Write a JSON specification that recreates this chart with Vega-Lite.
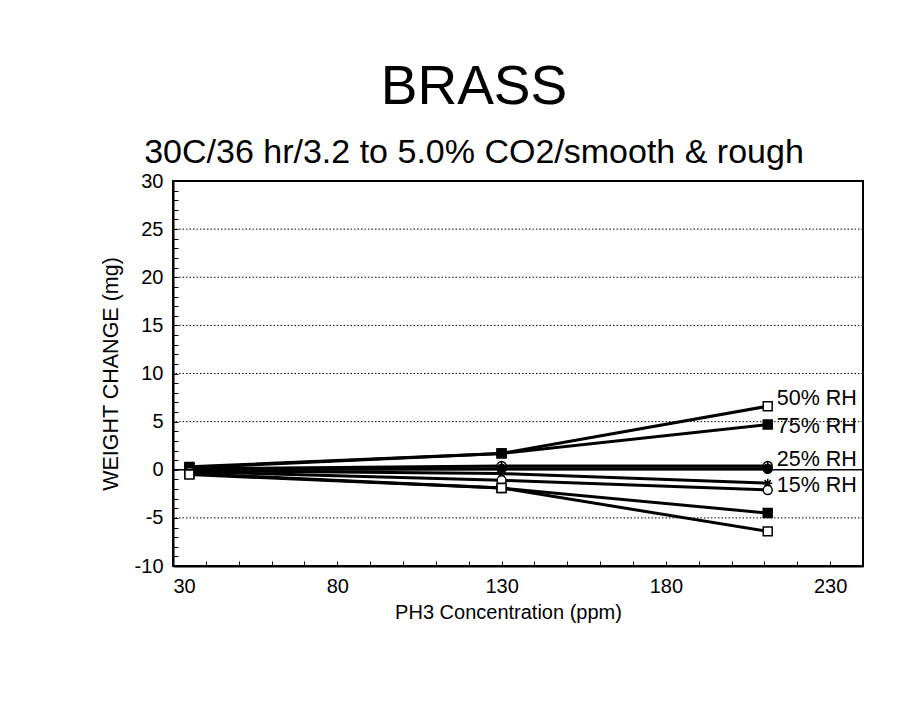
{
  "$schema": "https://vega.github.io/schema/vega-lite/v6.json",
  "autosize": {"type": "none"},
  "padding": {"left": 173, "top": 181, "right": 49, "bottom": 153},
  "width": 690,
  "height": 385,
  "background": "white",
  "title": {
    "text": "BRASS",
    "subtitle": "30C/36 hr/3.2 to 5.0% CO2/smooth & rough",
    "font": "Liberation Sans",
    "subtitleFont": "Liberation Sans",
    "fontSize": 55,
    "subtitleFontSize": 34,
    "fontWeight": "normal",
    "color": "black",
    "subtitleColor": "black",
    "anchor": "middle",
    "dx": -44,
    "offset": 0,
    "subtitlePadding": 20
  },
  "datasets": {
    "series": [
      {"series": "A", "ppm": 35, "weight": 0.3},
      {"series": "A", "ppm": 130, "weight": 1.7},
      {"series": "A", "ppm": 211, "weight": 6.6},
      {"series": "B", "ppm": 35, "weight": 0.2},
      {"series": "B", "ppm": 130, "weight": 1.7},
      {"series": "B", "ppm": 211, "weight": 4.7},
      {"series": "C", "ppm": 35, "weight": 0.1},
      {"series": "C", "ppm": 130, "weight": 0.4},
      {"series": "C", "ppm": 211, "weight": 0.4},
      {"series": "C2", "ppm": 35, "weight": 0.0},
      {"series": "C2", "ppm": 130, "weight": 0.1},
      {"series": "C2", "ppm": 211, "weight": 0.1},
      {"series": "D", "ppm": 35, "weight": -0.1},
      {"series": "D", "ppm": 130, "weight": -0.4},
      {"series": "D", "ppm": 211, "weight": -1.4},
      {"series": "E", "ppm": 35, "weight": -0.2},
      {"series": "E", "ppm": 130, "weight": -1.1},
      {"series": "E", "ppm": 211, "weight": -2.1},
      {"series": "F", "ppm": 35, "weight": -0.4},
      {"series": "F", "ppm": 130, "weight": -1.9},
      {"series": "F", "ppm": 211, "weight": -4.5},
      {"series": "G", "ppm": 35, "weight": -0.5},
      {"series": "G", "ppm": 130, "weight": -1.9},
      {"series": "G", "ppm": 211, "weight": -6.4}
    ],
    "labels": [
      {"label": "50% RH", "ppm": 211, "weight": 7.4},
      {"label": "75% RH", "ppm": 211, "weight": 4.4},
      {"label": "25% RH", "ppm": 211, "weight": 1.0},
      {"label": "15% RH", "ppm": 211, "weight": -1.7}
    ],
    "grid": [
      {"weight": -5}, {"weight": 5}, {"weight": 10}, {"weight": 15}, {"weight": 20}, {"weight": 25}
    ],
    "zero": [{"weight": 0}]
  },
  "layer": [
    {
      "data": {"name": "grid"},
      "mark": {"type": "rule", "color": "black", "strokeWidth": 1, "strokeDash": [1.5, 2]},
      "encoding": {
        "y": {"field": "weight", "type": "quantitative", "scale": {"domain": [-10, 30], "nice": false, "zero": false},
          "axis": {
            "title": "WEIGHT CHANGE (mg)",
            "values": [-10,-9,-8,-7,-6,-5,-4,-3,-2,-1,0,1,2,3,4,5,6,7,8,9,10,11,12,13,14,15,16,17,18,19,20,21,22,23,24,25,26,27,28,29,30],
            "tickCount": 200,
            "labelExpr": "datum.value % 5 === 0 ? '' + datum.value : ''",
            "labelOverlap": false,
            "grid": false,
            "tickSize": -5,
            "tickColor": "black",
            "tickWidth": 1,
            "domainColor": "black",
            "domainWidth": 2,
            "labelFont": "Liberation Sans",
            "labelFontSize": 20,
            "labelColor": "black",
            "labelPadding": 15,
            "titleFont": "Liberation Sans",
            "titleFontSize": 21.5,
            "titleFontWeight": "normal",
            "titleColor": "black",
            "titlePadding": 12
          }
        }
      }
    },
    {
      "data": {"name": "zero"},
      "mark": {"type": "rule", "color": "black", "strokeWidth": 1.5},
      "encoding": {
        "y": {"field": "weight", "type": "quantitative"}
      }
    },
    {
      "data": {"name": "series"},
      "mark": {"type": "line", "color": "black", "strokeWidth": 3},
      "encoding": {
        "x": {"field": "ppm", "type": "quantitative", "scale": {"domain": [30, 240], "nice": false, "zero": false},
          "axis": {
            "title": "PH3 Concentration (ppm)",
            "values": [30,40,50,60,70,80,90,100,110,120,130,140,150,160,170,180,190,200,210,220,230,240],
            "tickCount": 200,
            "labelExpr": "(datum.value - 30) % 50 === 0 ? '' + datum.value : ''",
            "labelOverlap": false,
            "grid": false,
            "tickSize": -5,
            "tickColor": "black",
            "tickWidth": 1,
            "domainColor": "black",
            "domainWidth": 2,
            "labelFont": "Liberation Sans",
            "labelFontSize": 20,
            "labelColor": "black",
            "labelPadding": 15,
            "titleFont": "Liberation Sans",
            "titleFontSize": 20,
            "titleFontWeight": "normal",
            "titleColor": "black",
            "titlePadding": 6,
            "titleX": 335
          }
        },
        "y": {"field": "weight", "type": "quantitative"},
        "detail": {"field": "series", "type": "nominal"}
      }
    },
    {
      "data": {"name": "series"},
      "mark": {"type": "point", "stroke": "black", "strokeWidth": 1.5, "size": 80, "opacity": 1},
      "encoding": {
        "x": {"field": "ppm", "type": "quantitative"},
        "y": {"field": "weight", "type": "quantitative"},
        "shape": {"field": "series", "type": "nominal", "legend": null,
          "scale": {"domain": ["A","B","C","C2","D","E","F","G"],
            "range": ["square","square","M-1,0A1,1 0 1,1 1,0A1,1 0 1,1 -1,0ZM-1,0H1M0,-1V1","circle","M-1,0H1M0,-1V1M-0.7,-0.7L0.7,0.7M-0.7,0.7L0.7,-0.7","circle","square","square"]}},
        "fill": {"field": "series", "type": "nominal", "legend": null,
          "scale": {"domain": ["A","B","C","C2","D","E","F","G"],
            "range": ["white","black","white","black","white","white","black","white"]}}
      }
    },
    {
      "data": {"name": "labels"},
      "mark": {"type": "text", "align": "left", "baseline": "middle", "dx": 9, "font": "Liberation Sans", "fontSize": 21.5, "color": "black"},
      "encoding": {
        "x": {"field": "ppm", "type": "quantitative"},
        "y": {"field": "weight", "type": "quantitative"},
        "text": {"field": "label", "type": "nominal"}
      }
    }
  ],
  "config": {
    "view": {"stroke": "black", "strokeWidth": 2}
  }
}
